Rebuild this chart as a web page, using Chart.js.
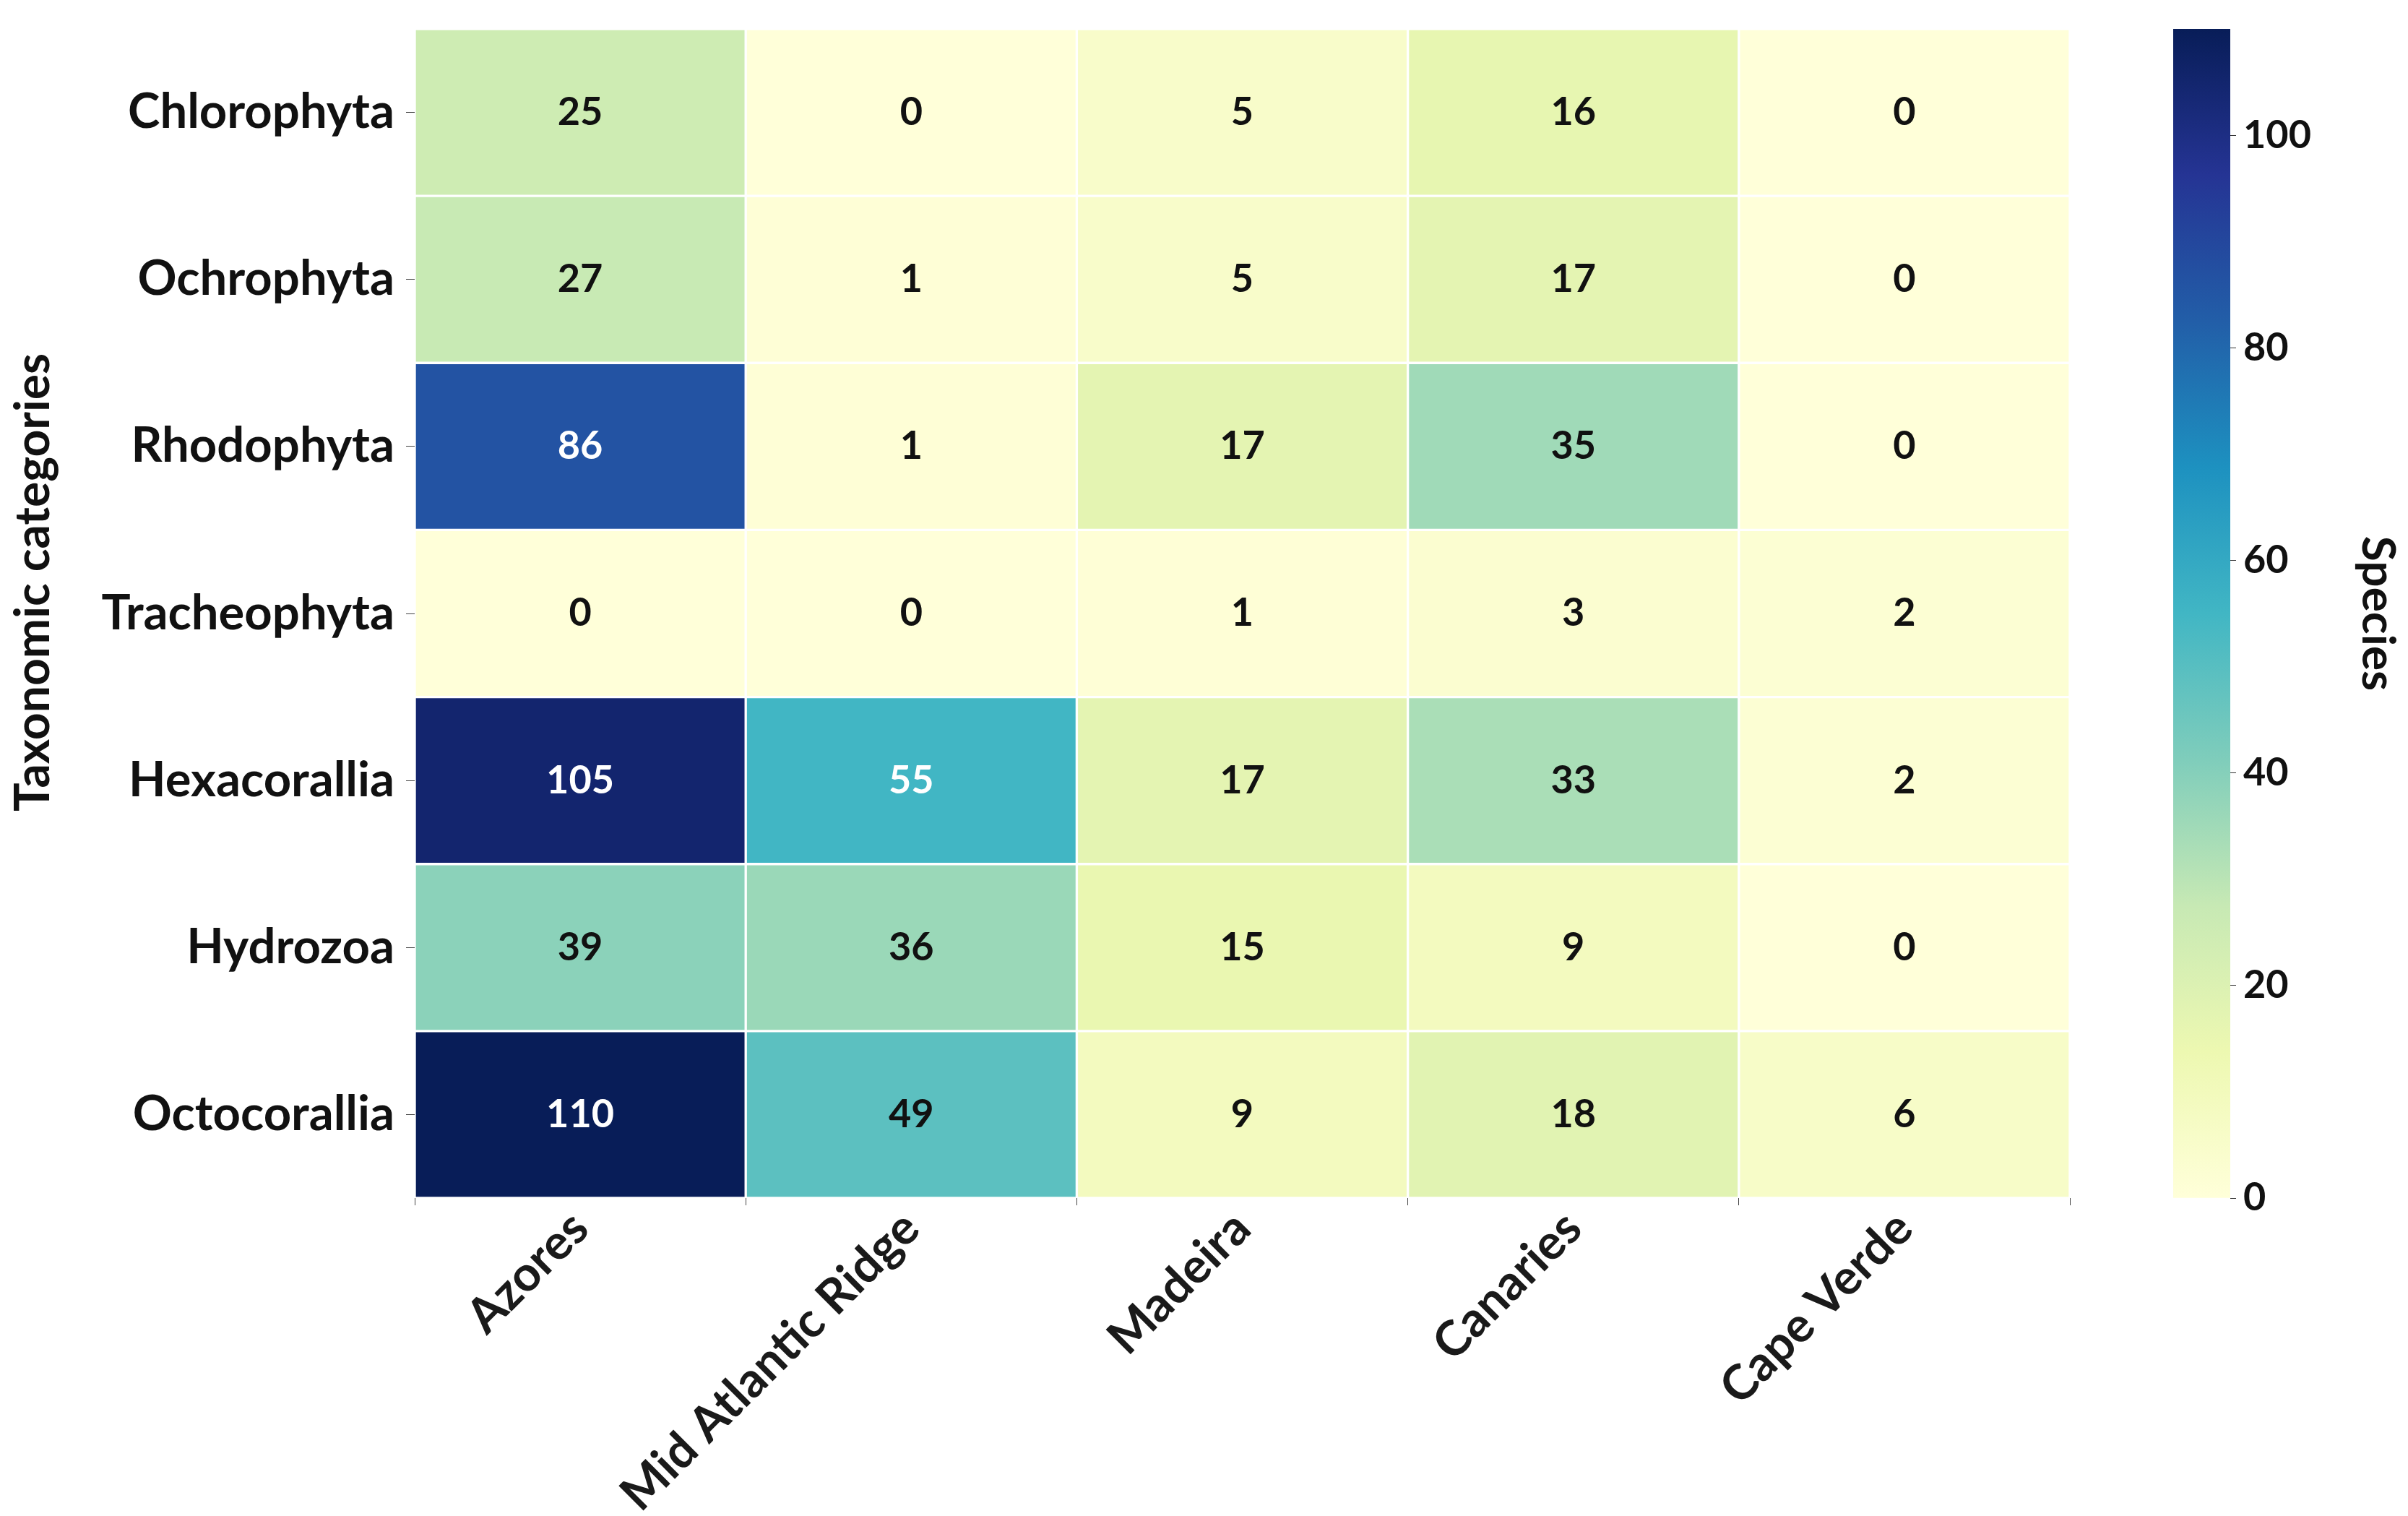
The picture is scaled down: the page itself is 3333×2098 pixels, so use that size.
<!DOCTYPE html>
<html>
<head>
<meta charset="utf-8">
<script src="https://cdn.jsdelivr.net/npm/chart.js@4.4.1/dist/chart.umd.min.js"></script>
<style>
  html, body { margin: 0; padding: 0; background: #fff; }
  #heat { position: absolute; left: 0; top: 0; }
  #bar { position: absolute; left: 2990px; top: 0; }
</style>
</head>
<body>
<canvas id="heat" width="2990" height="2098"></canvas>
<canvas id="bar" width="343" height="2098"></canvas>
<script>
var regions = ['Azores', 'Mid Atlantic Ridge', 'Madeira', 'Canaries', 'Cape Verde'];
var taxa = ['Chlorophyta', 'Ochrophyta', 'Rhodophyta', 'Tracheophyta', 'Hexacorallia', 'Hydrozoa', 'Octocorallia'];
var chlorophyta  = [25, 0, 5, 16, 0];
var ochrophyta   = [27, 1, 5, 17, 0];
var rhodophyta   = [86, 1, 17, 35, 0];
var tracheophyta = [0, 0, 1, 3, 2];
var hexacorallia = [105, 55, 17, 33, 2];
var hydrozoa     = [39, 36, 15, 9, 0];
var octocorallia = [110, 49, 9, 18, 6];
var counts = [chlorophyta, ochrophyta, rhodophyta, tracheophyta, hexacorallia, hydrozoa, octocorallia];
var colorbarTicks = [0, 20, 40, 60, 80, 100];
var vmax = 110;

// YlGnBu
var stops = ['#ffffd9', '#edf8b1', '#c7e9b4', '#7fcdbb', '#41b6c4', '#1d91c0', '#225ea8', '#253494', '#081d58'];
function hexRgb(h) {
  return [parseInt(h.substr(1, 2), 16), parseInt(h.substr(3, 2), 16), parseInt(h.substr(5, 2), 16)];
}
function mix(v) {
  var p = Math.min(Math.max(v / vmax, 0), 1) * (stops.length - 1);
  var i = Math.min(Math.floor(p), stops.length - 2);
  var f = p - i;
  var a = hexRgb(stops[i]), b = hexRgb(stops[i + 1]);
  return [0, 1, 2].map(function (k) { return a[k] + (b[k] - a[k]) * f; });
}
function colorFor(v) {
  return 'rgb(' + mix(v).map(Math.round).join(',') + ')';
}
function luminance(v) {
  var c = mix(v).map(function (x) {
    x = x / 255;
    return x <= 0.03928 ? x / 12.92 : Math.pow((x + 0.055) / 1.055, 2.4);
  });
  return 0.2126 * c[0] + 0.7152 * c[1] + 0.0722 * c[2];
}

var labelFont = 'Lato, "Open Sans", sans-serif';

var datasets = [];
for (var i = 0; i < taxa.length; i++) {
  datasets.push({
    label: taxa[i],
    data: regions.map(function () { return 1; }),
    counts: counts[i],
    backgroundColor: counts[i].map(colorFor),
    borderColor: '#ffffff',
    borderWidth: 2,
    borderSkipped: false,
    categoryPercentage: 1,
    barPercentage: 1
  });
}

var annotate = {
  id: 'annotate',
  afterDatasetsDraw: function (chart) {
    var ctx = chart.ctx;
    ctx.save();
    ctx.font = 'bold 54px ' + labelFont;
    ctx.textAlign = 'center';
    ctx.textBaseline = 'middle';
    chart.data.datasets.forEach(function (ds, di) {
      chart.getDatasetMeta(di).data.forEach(function (el, j) {
        var v = ds.counts[j];
        ctx.fillStyle = luminance(v) > 0.408 ? '#111111' : '#ffffff';
        ctx.fillText(String(v), el.x, (el.y + el.base) / 2);
      });
    });
    ctx.restore();
  }
};

var sideTitle = {
  id: 'sideTitle',
  afterDraw: function (chart) {
    var ctx = chart.ctx;
    ctx.save();
    ctx.translate(47, 806);
    ctx.rotate(-Math.PI / 2);
    ctx.font = 'bold 66px ' + labelFont;
    ctx.fillStyle = '#111111';
    ctx.textAlign = 'center';
    ctx.textBaseline = 'middle';
    ctx.fillText('Taxonomic categories', 0, 0);
    ctx.restore();
  }
};

new Chart(document.getElementById('heat').getContext('2d'), {
  type: 'bar',
  data: { labels: regions, datasets: datasets },
  plugins: [annotate, sideTitle],
  options: {
    responsive: false,
    animation: false,
    layout: { padding: { top: 40, right: 125, left: 0, bottom: 0 } },
    plugins: { legend: { display: false }, tooltip: { enabled: false } },
    scales: {
      x: {
        stacked: true,
        grid: { display: true, drawOnChartArea: false, tickLength: 10, color: '#444' },
        border: { display: false },
        ticks: {
          autoSkip: false, minRotation: 45, maxRotation: 45, padding: 2,
          color: '#1a1a1a', font: { family: labelFont, size: 67, weight: 'bold', lineHeight: 0.8 }
        },
        afterFit: function (scale) {
          scale.height = 440;
          scale.paddingLeft = 0;
          scale.paddingRight = 0;
        }
      },
      y: {
        type: 'linear', stacked: true, min: 0, max: taxa.length, reverse: true,
        grid: { display: true, drawOnChartArea: false, tickLength: 12, color: '#444' },
        border: { display: false },
        afterBuildTicks: function (scale) {
          scale.ticks = taxa.map(function (t, k) { return { value: k + 0.5 }; });
        },
        ticks: {
          padding: 16, color: '#111111',
          font: { family: labelFont, size: 67, weight: 'bold' },
          callback: function (value) { return taxa[Math.floor(value)]; }
        },
        afterFit: function (scale) {
          scale.width = 574;
          scale.paddingTop = 0;
          scale.paddingBottom = 0;
        }
      }
    }
  }
});

new Chart(document.getElementById('bar').getContext('2d'), {
  type: 'bar',
  data: {
    labels: [''],
    datasets: [{
      data: [[0, vmax]],
      categoryPercentage: 1,
      barPercentage: 1,
      borderWidth: 0,
      backgroundColor: function (context) {
        var area = context.chart.chartArea;
        if (!area) return null;
        var g = context.chart.ctx.createLinearGradient(0, area.bottom, 0, area.top);
        stops.forEach(function (s, k) { g.addColorStop(k / (stops.length - 1), s); });
        return g;
      }
    }]
  },
  options: {
    responsive: false,
    animation: false,
    layout: { padding: { top: 40, bottom: 440, left: 18, right: 0 } },
    plugins: { legend: { display: false }, tooltip: { enabled: false } },
    scales: {
      x: { display: false },
      y: {
        position: 'right', min: 0, max: vmax,
        grid: { drawOnChartArea: false, tickLength: 8, color: '#333' },
        border: { display: false },
        afterBuildTicks: function (scale) {
          scale.ticks = colorbarTicks.map(function (t) { return { value: t }; });
        },
        ticks: {
          padding: 10, color: '#111111',
          font: { family: labelFont, size: 54, weight: 'bold' }
        },
        title: {
          display: true, text: 'Species', color: '#111111', padding: { top: 4, bottom: 14 },
          font: { family: labelFont, size: 64, weight: 'bold' }
        },
        afterFit: function (scale) {
          scale.width = 246;
          scale.paddingTop = 0;
          scale.paddingBottom = 0;
        }
      }
    }
  }
});
</script>
</body>
</html>
